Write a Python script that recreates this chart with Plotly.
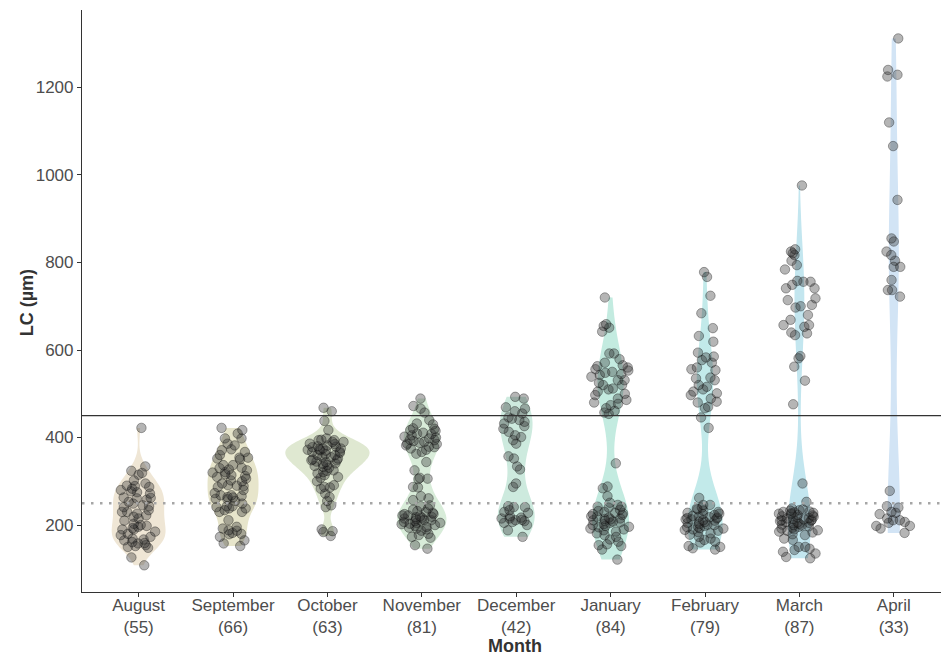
import numpy as np
import plotly.graph_objects as go

months = ["August", "September", "October", "November", "December",
          "January", "February", "March", "April"]

aug = [422, 324, 334, 319, 315, 302, 289, 287, 295, 283, 280, 277, 272, 261, 258, 263,
       253, 245, 243, 241, 249, 234, 230, 226, 222, 219, 215, 203, 198, 196, 193, 190,
       190, 180, 177, 173, 169, 167, 165, 161, 159, 158, 154, 152, 150, 148, 126, 108,
       262, 275, 290, 230, 210, 185, 200]
sep = [422, 417, 409, 398, 398, 382, 386, 373, 371, 367, 360, 354, 352, 354, 337, 337,
       331, 327, 325, 321, 316, 314, 312, 306, 302, 295, 291, 289, 287, 273, 268, 266,
       264, 268, 263, 259, 255, 249, 243, 243, 241, 238, 238, 234, 230, 230, 211, 196,
       192, 188, 180, 179, 187, 182, 173, 165, 158, 152,
       300, 320, 280, 350, 260, 330, 310, 290]
octo = [468, 460, 438, 417, 398, 394, 394, 390, 386, 382, 379, 375, 373, 371, 367, 360,
        356, 352, 348, 348, 344, 341, 337, 333, 331, 325, 324, 321, 318, 314, 310, 308,
        291, 287, 286, 283, 272, 264, 255, 245, 241, 190, 186, 184, 175,
        395, 390, 385, 380, 378, 375, 372, 370, 368, 365, 362, 360, 355, 350, 345, 340,
        335, 300]
nov = [489, 472, 466, 457, 440, 432, 430, 421, 417, 411, 409, 405, 400, 394, 392, 390,
       386, 382, 379, 375, 367, 363, 344, 325, 308, 306, 305, 286, 287, 266, 261, 257,
       245, 243, 238, 232, 230, 228, 225, 222, 220, 219, 217, 215, 212, 211, 209, 207,
       205, 203, 202, 196, 194, 192, 187, 180, 177, 173, 171, 154, 146,
       415, 408, 398, 388, 378, 372, 395, 385, 420, 402,
       225, 218, 210, 205, 200, 214, 222, 198, 235, 190]
dec = [493, 489, 469, 466, 455, 446, 440, 436, 443, 432, 426, 413, 405, 394, 386, 401,
       357, 352, 334, 327, 295, 287, 241, 241, 243, 234, 228, 220, 217, 215, 212, 209,
       211, 207, 205, 188, 173,
       460, 420, 230, 215, 200]
jan = [720, 659, 655, 651, 642, 592, 592, 579, 571, 563, 560, 556, 553, 550, 548, 543,
       539, 531, 531, 520, 520, 512, 510, 497, 489, 486, 477, 474, 467, 461, 457, 454,
       341, 288, 284, 266, 251, 246, 242, 242, 230, 227, 223, 220, 217, 215, 213, 211,
       208, 205, 200, 198, 196, 192, 188, 185, 181, 177, 173, 167, 162, 156, 154, 152,
       144, 121,
       235, 232, 225, 219, 214, 210, 206, 202, 240, 195, 190, 228,
       545, 525, 505, 480, 565, 500]
feb = [778, 767, 724, 684, 650, 632, 619, 594, 585, 583, 577, 571, 560, 556, 554, 537,
       535, 531, 520, 516, 510, 505, 501, 497, 489, 482, 480, 470, 467, 446, 422,
       262, 246, 246, 238, 236, 233, 228, 223, 219, 217, 215, 213, 213, 210, 205, 200,
       196, 195, 192, 190, 187, 181, 173, 169, 166, 162, 160, 152, 150, 147, 144,
       230, 225, 221, 218, 211, 208, 203, 198, 193, 189, 184, 178, 240, 226, 207, 216, 201]
mar = [976, 830, 825, 821, 817, 804, 794, 784, 756, 758, 756, 749, 741, 741, 718, 714,
       703, 700, 697, 680, 669, 657, 657, 653, 640, 638, 634, 586, 581, 562, 530, 476,
       295, 253, 238, 236, 233, 230, 226, 223, 219, 215, 211, 207, 204, 200, 196, 192,
       188, 185, 179, 177, 169, 166, 150, 146, 150, 143, 139, 135, 124, 127,
       234, 231, 229, 227, 225, 222, 220, 218, 216, 214, 212, 210, 209, 206, 203, 201,
       199, 197, 194, 190, 187, 183, 228, 213, 205]
apr = [1312, 1240, 1225, 1229, 1120, 1066, 943, 855, 848, 825, 817, 804, 790, 790, 737,
       737, 722, 278, 243, 240, 228, 225, 215, 211, 211, 207, 198, 192, 198, 182,
       760, 230, 205]

values = [aug, sep, octo, nov, dec, jan, feb, mar, apr]
y_ticks = [200, 400, 600, 800, 1000, 1200]

fill_colors = ["#efe6d5", "#e7e5cb", "#dfe8d1", "#d8ecd9", "#cdeade",
               "#c3ebe0", "#c2eaea", "#c3e6ef", "#d2e4f5"]
violin_widths = [0.57, 0.54, 0.89, 0.52, 0.39, 0.39, 0.37, 0.24, 0.13]

labels = [f"{m}<br>({len(v)})" for m, v in zip(months, values)]


def nrd0(v):
    a = np.asarray(v, dtype=float)
    q75, q25 = np.percentile(a, [75, 25])
    lo = min(a.std(ddof=1), (q75 - q25) / 1.34)
    return 0.9 * lo * len(a) ** (-0.2)


fig = go.Figure()
for m, v, c, w in zip(months, values, fill_colors, violin_widths):
    fig.add_trace(go.Violin(
        x=[m] * len(v), y=v, name=m, width=w, fillcolor=c,
        line=dict(width=0, color=c), points=False, spanmode="hard",
        scalemode="width", bandwidth=nrd0(v), hoveron="violins",
        showlegend=False, box=dict(visible=False), meanline=dict(visible=False)))

for m, v in zip(months, values):
    fig.add_trace(go.Box(
        x=[m] * len(v), y=v, name=m, width=0.44, boxpoints="all", jitter=1,
        pointpos=0, fillcolor="rgba(0,0,0,0)", line=dict(width=0, color="rgba(0,0,0,0)"),
        whiskerwidth=0,
        marker=dict(size=9.5, color="rgba(50,50,50,0.36)",
                    line=dict(width=1, color="rgba(0,0,0,0.32)")),
        showlegend=False))

fig.add_hline(y=450, line=dict(color="#333333", width=1.3), layer="above")
fig.add_hline(y=250, line=dict(color="#a6a6a6", width=2.5, dash="2.5px,6.5px"),
              layer="above")

fig.update_layout(
    width=941, height=656,
    margin=dict(l=82, r=0, t=10, b=64, autoexpand=False),
    paper_bgcolor="white", plot_bgcolor="white",
    violinmode="overlay", boxmode="overlay",
    font=dict(family="Arial, Liberation Sans, sans-serif", size=17, color="#4d4d4d"),
    showlegend=False,
    annotations=[
        dict(text="<b>Month</b>", xref="paper", yref="paper", x=0.504, y=0,
             yshift=-54, showarrow=False, font=dict(size=18, color="#333333"),
             xanchor="center", yanchor="middle"),
        dict(text="<b>LC (µm)</b>", xref="paper", yref="paper", x=0, y=0.496,
             xshift=-55, showarrow=False, textangle=-90,
             font=dict(size=18, color="#333333"), xanchor="center", yanchor="middle"),
    ],
)
fig.update_xaxes(
    type="category", categoryorder="array", categoryarray=months,
    tickmode="array", tickvals=months, ticktext=labels, automargin=False,
    range=[-0.6, 8.5], showgrid=False, zeroline=False,
    showline=True, linecolor="#333333", linewidth=1.2,
    ticks="outside", ticklen=4, tickcolor="#333333",
    tickfont=dict(size=17, color="#4d4d4d"), ticklabelstandoff=-7,
)
fig.update_yaxes(
    range=[47, 1377], tickvals=y_ticks, automargin=False,
    showgrid=False, zeroline=False,
    showline=True, linecolor="#333333", linewidth=1.2,
    ticks="outside", ticklen=4, tickcolor="#333333",
    tickfont=dict(size=17, color="#4d4d4d"),
)

fig.write_html("out.html", config={"displayModeBar": False},
               post_script="document.body.style.margin='0';"
                           "document.body.style.overflow='hidden';")
